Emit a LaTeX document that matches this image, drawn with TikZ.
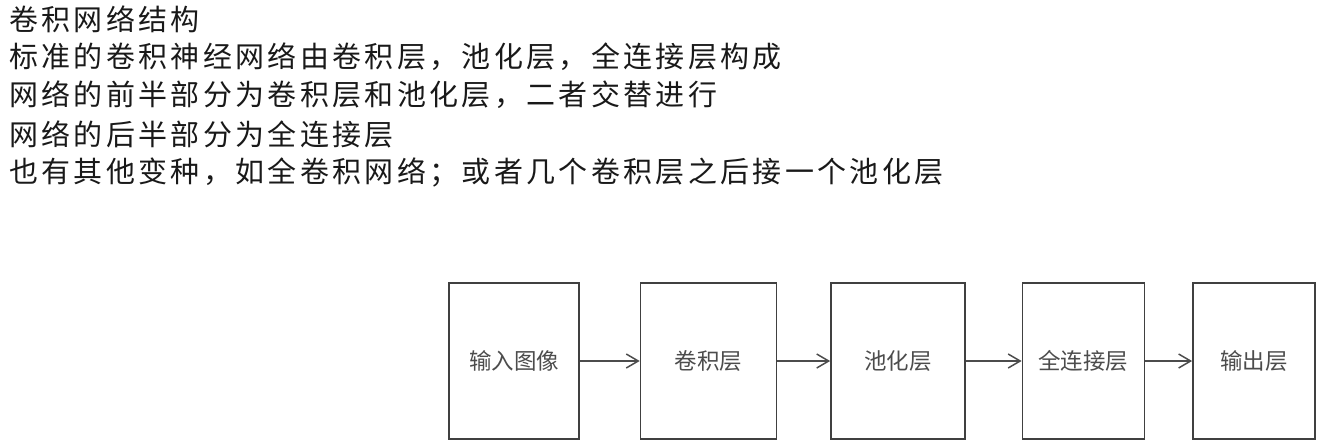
\documentclass[tikz,border=0pt]{standalone}
\usepackage{fontspec}
\newfontfamily\cjk{Noto Sans CJK SC}
\newfontfamily\cjkwide[LetterSpace=11.5]{Noto Sans CJK SC}
\usepackage{xcolor}
\usetikzlibrary{positioning,arrows.meta}

\begin{document}
\begin{tikzpicture}[
x=0.02cm, y=-0.02cm,
textline/.style={anchor=west, inner sep=0pt, font=\cjkwide\fontsize{16.5pt}{19pt}\selectfont, text=black!90},
box/.style={draw=black!75, line width=0.85pt, minimum height=3.12cm, font=\cjk\fontsize{12.8pt}{15pt}\selectfont, text=black!70},
arr/.style={-{Straight Barb[length=0.24cm,width=0.28cm]}, draw=black!70, line width=0.85pt}
]
\useasboundingbox (0,0) rectangle (1339,447);
% text lines
\node[textline] (title) at (9,19) {卷积网络结构};
\node[textline] (std) at (9,57) {标准的卷积神经网络由卷积层，池化层，全连接层构成};
\node[textline] (front) at (9,95) {网络的前半部分为卷积层和池化层，二者交替进行};
\node[textline] (back) at (9,134) {网络的后半部分为全连接层};
\node[textline] (other) at (9,172) {也有其他变种，如全卷积网络；或者几个卷积层之后接一个池化层};
% layers
\node[box, minimum width=2.6cm] (input) at (514,361) {输入图像};
\node[box, minimum width=2.72cm, right=1.2cm of input] (conv) {卷积层};
\node[box, minimum width=2.68cm, right=1.06cm of conv] (pool) {池化层};
\node[box, minimum width=2.44cm, right=1.12cm of pool] (fc) {全连接层};
\node[box, minimum width=2.44cm, right=0.94cm of fc] (output) {输出层};
\draw[arr] (input) -- (conv);
\draw[arr] (conv) -- (pool);
\draw[arr] (pool) -- (fc);
\draw[arr] (fc) -- (output);
\end{tikzpicture}
\end{document}
